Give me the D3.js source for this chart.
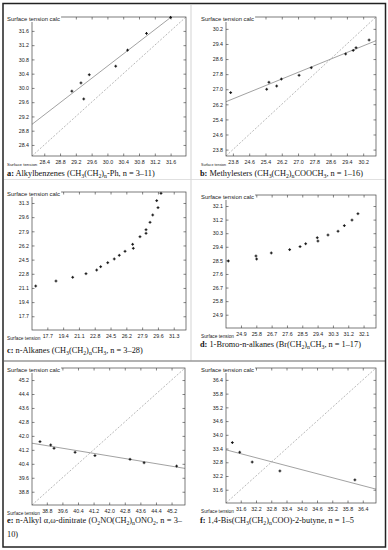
<!DOCTYPE html>
<html>
<head>
<meta charset="utf-8">
<script src="https://cdn.jsdelivr.net/npm/d3@7"></script>
<style>
  body { margin: 0; background: #fff; }
  svg { display: block; }
  .tick text { font-family: "Liberation Sans", Arial, sans-serif; font-size: 5.3px; fill: #222; }
  .tick line { stroke: #333; stroke-width: 0.6; }
  .axname { font-family: "Liberation Sans", Arial, sans-serif; font-size: 5.9px; fill: #222; }
  .caption { font-family: "Liberation Serif", "Times New Roman", serif; font-size: 8.3px; fill: #111; }
</style>
</head>
<body>
<script>
"use strict"

// axis limits (same for x and y in every panel) and tick labels
var axisLimits = [[28.09, 31.99], [23.46, 30.83], [16.05, 32.62], [24.02, 32.83], [38.04, 45.89], [31.02, 36.92]];
var tickValues = [
    [28.4, 28.8, 29.2, 29.6, 30.0, 30.4, 30.8, 31.2, 31.6],
    [23.8, 24.6, 25.4, 26.2, 27.0, 27.8, 28.6, 29.4, 30.2],
    [17.7, 19.4, 21.1, 22.8, 24.5, 26.2, 27.9, 29.6, 31.3],
    [24.9, 25.8, 26.7, 27.6, 28.5, 29.4, 30.3, 31.2, 32.1],
    [38.8, 39.6, 40.4, 41.2, 42.0, 42.8, 43.6, 44.4, 45.2],
    [31.6, 32.2, 32.8, 33.4, 34.0, 34.6, 35.2, 35.8, 36.4]
];

// measured (x) vs calculated (y) surface tension
var expA = [29.10, 29.33, 29.40, 29.54, 30.21, 30.51, 30.99, 31.60];
var calcA = [29.91, 30.14, 29.69, 30.37, 30.61, 31.06, 31.53, 31.98];
var expB = [23.69, 25.46, 25.57, 25.95, 26.18, 27.05, 27.65, 29.34, 29.71, 29.85, 30.49];
var calcB = [26.82, 27.00, 27.37, 27.17, 27.54, 27.74, 28.14, 28.87, 29.06, 29.20, 29.61];
var expC = [16.45, 18.63, 20.43, 21.86, 23.01, 23.44, 24.20, 24.90, 25.44, 26.06, 26.88, 26.95, 27.67, 28.32, 28.32, 28.75, 29.04, 29.47, 29.61, 29.93];
var calcC = [21.33, 21.93, 22.38, 22.81, 23.25, 23.65, 24.13, 24.58, 25.02, 25.50, 26.34, 25.86, 27.25, 28.09, 27.66, 28.98, 29.86, 31.58, 30.74, 32.46];
var expD = [24.16, 25.78, 25.82, 26.68, 27.76, 28.37, 28.70, 29.38, 29.42, 30.01, 30.60, 30.97, 31.42, 31.77];
var calcD = [28.46, 28.79, 28.59, 28.99, 29.21, 29.41, 29.60, 30.00, 29.78, 30.18, 30.43, 30.80, 31.17, 31.59];
var expE = [38.45, 39.00, 39.17, 40.25, 41.27, 43.07, 43.79, 45.46];
var calcE = [41.67, 41.48, 41.29, 41.06, 40.87, 40.66, 40.46, 40.27];
var expF = [31.27, 31.56, 32.05, 33.14, 36.09];
var calcF = [33.66, 33.24, 32.81, 32.42, 32.03];

// regression lines (null = none) and y=x reference line
var fitSlope = [0.854, 0.439, null, null, -0.184, -0.291];
var fitIntercept = [4.99, 16.04, null, null, 48.58, 42.37];
var showDiagonal = [true, true, false, false, true, true];

// captions: [text, style] with style "b" bold, "s" subscript
var captionA = [["a:", "b"], [" Alkylbenzenes (CH", ""], ["3", "s"], ["(CH", ""], ["2", "s"], [")", ""], ["n", "s"], ["-Ph, n = 3\u201311)", ""]];
var captionB = [["b:", "b"], [" Methylesters (CH", ""], ["3", "s"], ["(CH", ""], ["2", "s"], [")", ""], ["n", "s"], ["COOCH", ""], ["3", "s"], [", n = 1\u201316)", ""]];
var captionC = [["c:", "b"], [" n-Alkanes (CH", ""], ["3", "s"], ["(CH", ""], ["2", "s"], [")", ""], ["n", "s"], ["CH", ""], ["3", "s"], [", n = 3\u201328)", ""]];
var captionD = [["d:", "b"], [" 1-Bromo-n-alkanes (Br(CH", ""], ["2", "s"], [")", ""], ["n", "s"], ["CH", ""], ["3", "s"], [", n = 1\u201317)", ""]];
var captionE = [["e:", "b"], [" n-Alkyl \u03b1,\u03c9-dinitrate (O", ""], ["2", "s"], ["NO(CH", ""], ["2", "s"], [")", ""], ["n", "s"], ["ONO", ""], ["2", "s"], [", n = 3\u2013", ""]];
var captionE2 = [["10)", ""]];
var captionF = [["f:", "b"], [" 1,4-Bis(CH", ""], ["3", "s"], ["(CH", ""], ["2", "s"], [")", ""], ["n", "s"], ["COO)-2-butyne, n = 1\u20135", ""]];

var xName = "Surface tension";
var yName = "Surface tension calc";

var expData = [expA, expB, expC, expD, expE, expF];
var calcData = [calcA, calcB, calcC, calcD, calcE, calcF];
var captions = [captionA, captionB, captionC, captionD, captionE, captionF];

// page layout of the six plot boxes
var layout = [
    {x0: 32, x1: 186, y0: 17, y1: 156, cx: 7, cy: 176},
    {x0: 226, x1: 376, y0: 17, y1: 156, cx: 200, cy: 176},
    {x0: 32, x1: 186, y0: 192, y1: 330, cx: 7, cy: 353},
    {x0: 226, x1: 376, y0: 195, y1: 328, cx: 200, cy: 347},
    {x0: 32, x1: 185, y0: 368, y1: 505, cx: 7, cy: 523},
    {x0: 226, x1: 376, y0: 368, y1: 503, cx: 200, cy: 523}
];

var svg = d3.select("body").append("svg")
    .attr("width", 388)
    .attr("height", 550);

svg.append("rect").attr("width", 388).attr("height", 550).attr("fill", "#fff");

// table lines
svg.append("line").attr("x1", 191).attr("x2", 191).attr("y1", 5).attr("y2", 361)
    .attr("stroke", "#c8c8c8").attr("stroke-width", 0.8);
svg.append("line").attr("x1", 4).attr("x2", 385).attr("y1", 179.5).attr("y2", 179.5)
    .attr("stroke", "#d8d8d8").attr("stroke-width", 0.8);
svg.append("line").attr("x1", 4).attr("x2", 385).attr("y1", 361).attr("y2", 361)
    .attr("stroke", "#999").attr("stroke-width", 1.5);
svg.append("rect").attr("x", 3).attr("y", 3.5).attr("width", 382.5).attr("height", 543.5)
    .attr("fill", "none").attr("stroke", "#222").attr("stroke-width", 1.5);

function addCaption(parts, x, y) {
    var t = svg.append("text").attr("class", "caption").attr("x", x).attr("y", y)
        .style("white-space", "pre");
    var shifted = false;
    parts.forEach(function(p) {
        var ts = t.append("tspan").text(p[0]);
        if (p[1] == "b") ts.attr("font-weight", "bold");
        if (p[1] == "s") {
            ts.attr("font-size", "5.8px").attr("dy", shifted ? 0 : 1.8);
            shifted = true;
        } else if (shifted) {
            ts.attr("dy", -1.8);
            shifted = false;
        }
    });
    return t;
}

function drawPanel(i) {
    var L = layout[i];
    var x = d3.scaleLinear().domain(axisLimits[i]).range([L.x0, L.x1]);
    var y = d3.scaleLinear().domain(axisLimits[i]).range([L.y1, L.y0]);
    var fmt = d3.format(".1f");
    var g = svg.append("g");

    var clipId = "clip" + i;
    svg.append("clipPath").attr("id", clipId).append("rect")
        .attr("x", L.x0).attr("y", L.y0).attr("width", L.x1 - L.x0).attr("height", L.y1 - L.y0);

    // ticks inside on all four sides
    var ax = [
        d3.axisBottom(x).tickValues(tickValues[i]).tickFormat(fmt),
        d3.axisTop(x).tickValues(tickValues[i]).tickFormat(""),
        d3.axisLeft(y).tickValues(tickValues[i]).tickFormat(fmt),
        d3.axisRight(y).tickValues(tickValues[i]).tickFormat("")
    ];
    var shifts = ["translate(0," + L.y1 + ")", "translate(0," + L.y0 + ")",
                  "translate(" + L.x0 + ",0)", "translate(" + L.x1 + ",0)"];
    var firstLabelLeft = L.x0;
    ax.forEach(function(a, k) {
        var ag = g.append("g").attr("transform", shifts[k])
            .call(a.tickSizeInner(-2.5).tickSizeOuter(0).tickPadding(k == 0 ? 4 : 3));
        ag.select(".domain").remove();
        if (k == 0) {
            firstLabelLeft = ag.select(".tick text").node().getBBox().x + x(tickValues[i][0]);
        }
    });

    // x axis name, shrunk to end just before the first tick label
    var xl = g.append("text").attr("class", "axname").attr("x", L.x0 - 25).attr("y", L.y1 + 10.2).text(xName);
    var room = firstLabelLeft - 1.8 - (L.x0 - 25);
    var natural = xl.node().getComputedTextLength();
    if (natural > room) {
        xl.style("font-size", (5.9 * room / natural).toFixed(2) + "px");
    }

    // y = x reference
    if (showDiagonal[i]) {
        g.append("line")
            .attr("clip-path", "url(#" + clipId + ")")
            .attr("x1", x(axisLimits[i][0])).attr("y1", y(axisLimits[i][0]))
            .attr("x2", x(axisLimits[i][1])).attr("y2", y(axisLimits[i][1]))
            .attr("stroke", "#999").attr("stroke-width", 0.7).attr("stroke-dasharray", "2,1.6");
    }
    // regression line
    if (fitSlope[i] != null) {
        var lo = axisLimits[i][0], hi = axisLimits[i][1];
        g.append("line")
            .attr("clip-path", "url(#" + clipId + ")")
            .attr("x1", x(lo)).attr("y1", y(fitIntercept[i] + fitSlope[i] * lo))
            .attr("x2", x(hi)).attr("y2", y(fitIntercept[i] + fitSlope[i] * hi))
            .attr("stroke", "#8a8a8a").attr("stroke-width", 0.8);
    }

    // box
    g.append("rect").attr("x", L.x0).attr("y", L.y0)
        .attr("width", L.x1 - L.x0).attr("height", L.y1 - L.y0)
        .attr("fill", "none").attr("stroke", "#444").attr("stroke-width", 0.7);

    // points as small crosses
    var pts = expData[i].map(function(d, j) { return [d, calcData[i][j]]; });
    g.selectAll(".pt").data(pts).enter().append("path")
        .attr("class", "pt")
        .attr("d", function(d) {
            var px = x(d[0]), py = y(d[1]);
            return "M" + (px - 1.4) + "," + py + "h2.8M" + px + "," + (py - 1.4) + "v2.8";
        })
        .attr("stroke", "#111").attr("stroke-width", 1);

    // y axis name sits on the top-left corner of the box
    var bg = g.append("rect").attr("fill", "#fff");
    var yl = g.append("text").attr("class", "axname").attr("x", L.x0 - 25).attr("y", L.y0 + 4.3).text(yName);
    var bb = yl.node().getBBox();
    bg.attr("x", bb.x - 1).attr("y", L.y0 - 2).attr("width", bb.width + 2).attr("height", 7);

    addCaption(captions[i], L.cx, L.cy);
}

for (var i = 0; i < 6; i++) {
    drawPanel(i);
}

// justify first caption line of panel e, then the wrapped rest
var eLine = svg.selectAll("text.caption").filter(function(d, k) { return k == 4; });
var natural = eLine.node().getComputedTextLength();
eLine.style("word-spacing", Math.max(0, (182 - 7 - natural) / 6) + "px");
addCaption(captionE2, 7, 537);
</script>
</body>
</html>
